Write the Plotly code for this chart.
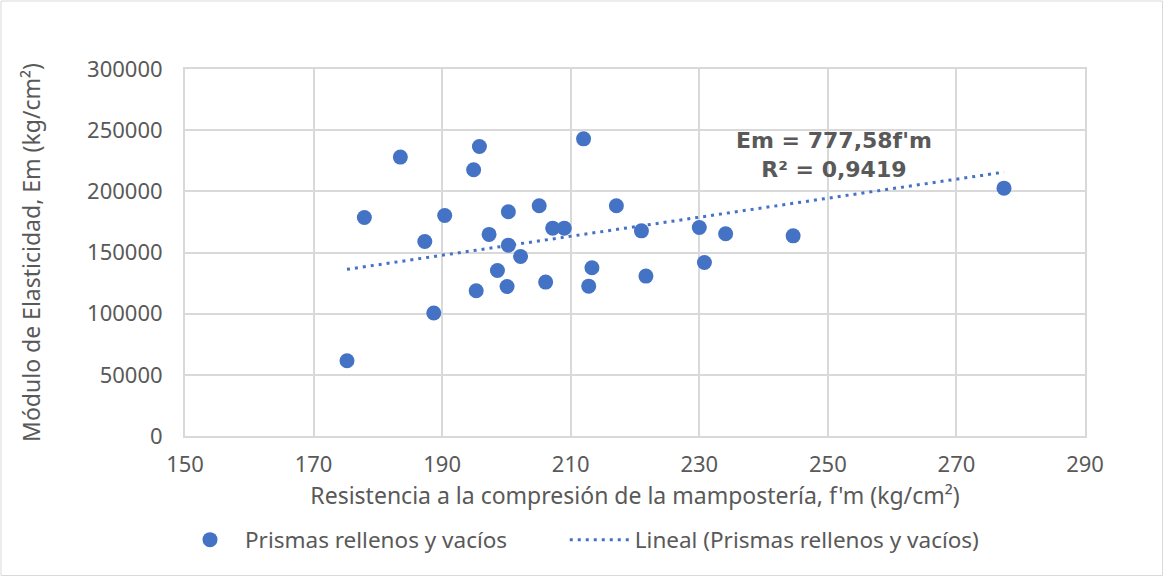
import plotly.graph_objects as go

# Compressive strength f'm (kg/cm²) and elastic modulus Em (kg/cm²) of the prisms
fm = [175.2, 177.9, 183.5, 187.3, 188.7, 190.4, 194.9, 195.3, 195.8, 197.3,
      198.6, 200.1, 200.3, 200.3, 202.2, 205.1, 206.1, 207.2, 209.0, 212.0,
      212.8, 213.3, 217.1, 221.0, 221.7, 230.0, 230.8, 234.1, 244.6, 277.4]
em = [61500, 178600, 228000, 159000, 100500, 180200, 217600, 118700, 236600, 164800,
      135300, 122200, 183300, 156000, 146700, 188200, 125800, 169900, 169900, 242900,
      122500, 137500, 188200, 167700, 130700, 170400, 141800, 165300, 163600, 202600]

# Linear fit through the origin: Em = k * f'm
slope = 777.58
r2 = 0.9419

x_ticks = [150, 170, 190, 210, 230, 250, 270, 290]
y_ticks = [0, 50000, 100000, 150000, 200000, 250000, 300000]

BLUE = "#4472C4"
TEXT = "#595959"
GRID = "#D9D9D9"
FONT = "Noto Sans"

W, H = 1164, 577
ML, MR, MT, MB = 185, 79, 69, 141

# non-breaking spaces widen the gap between the two legend entries
LEGEND_PAD = "\u00a0" * 9

fig = go.Figure()

fig.add_trace(go.Scatter(
    x=fm, y=em, mode="markers",
    name="Prismas rellenos y vacíos" + LEGEND_PAD,
    marker=dict(color=BLUE, size=15, line=dict(width=0)),
))

x_fit = [min(fm), max(fm)]
y_fit = [slope * v for v in x_fit]
fig.add_trace(go.Scatter(
    x=x_fit, y=y_fit, mode="lines",
    name="Lineal (Prismas rellenos y vacíos)",
    line=dict(color=BLUE, width=3, dash="3px,5px"),
))

eq_text = "<b>Em = {}f'm<br>R² = {}</b>".format(
    f"{slope:.2f}".replace(".", ","), f"{r2:.4f}".replace(".", ","))
fig.add_annotation(
    x=251.0, y=230000, xref="x", yref="y", text=eq_text, showarrow=False,
    font=dict(family="DejaVu Sans", size=22, color=TEXT), align="center",
)

# Outer chart border
pw, ph = W - ML - MR, H - MT - MB
fig.add_shape(
    type="rect", xref="paper", yref="paper",
    x0=-(ML - 1) / pw, x1=1 + (MR - 1.5) / pw,
    y0=-(MB - 1.5) / ph, y1=1 + (MT - 1) / ph,
    line=dict(color=GRID, width=1), fillcolor="rgba(0,0,0,0)", layer="below",
)

fig.update_layout(
    width=W, height=H,
    margin=dict(l=ML, r=MR, t=MT, b=MB, autoexpand=False),
    paper_bgcolor="white", plot_bgcolor="white",
    font=dict(family=FONT, size=22, color=TEXT),
    showlegend=True,
    legend=dict(
        orientation="h", xref="container", x=175 / W, xanchor="left",
        yref="container", y=37 / H, yanchor="middle",
        font=dict(family=FONT, size=22.5, color=TEXT),
        itemwidth=60, tracegroupgap=0,
    ),
    xaxis=dict(
        range=[150, 290], tickvals=x_ticks, ticks="",
        showgrid=True, gridcolor=GRID, gridwidth=2,
        showline=True, linecolor=GRID, linewidth=2, mirror=True,
        zeroline=False, ticklabelstandoff=8,
        title=dict(text="Resistencia a la compresión de la mampostería, f'm (kg/cm²)",
                   font=dict(family=FONT, size=23, color=TEXT), standoff=10),
        tickfont=dict(family=FONT, size=22, color=TEXT),
    ),
    yaxis=dict(
        range=[0, 300000], tickvals=y_ticks, tickformat="d", ticks="",
        showgrid=True, gridcolor=GRID, gridwidth=2,
        showline=True, linecolor=GRID, linewidth=2, mirror=True,
        zeroline=False, ticklabelstandoff=16,
        title=dict(text="Módulo de Elasticidad, Em (kg/cm²)",
                   font=dict(family=FONT, size=23, color=TEXT), standoff=40),
        tickfont=dict(family=FONT, size=22, color=TEXT),
    ),
)

fig.write_html("out.html")
